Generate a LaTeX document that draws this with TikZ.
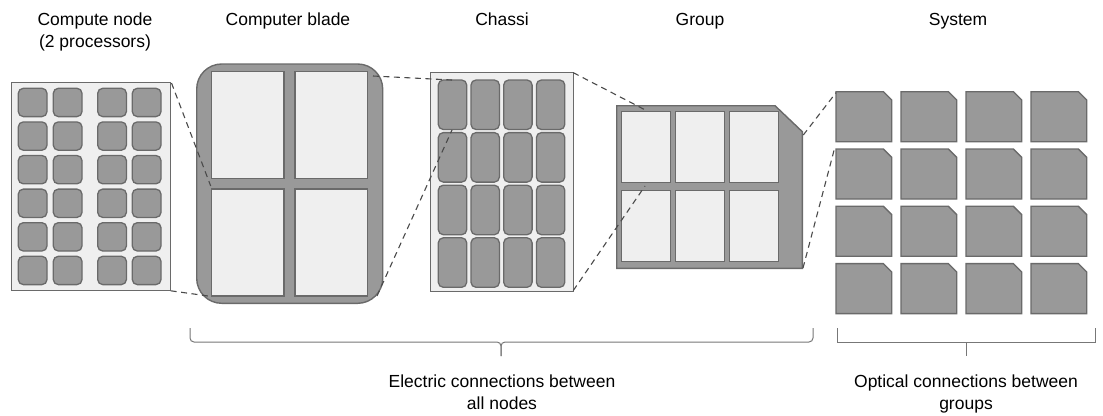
\documentclass[tikz,border=0pt]{standalone}
\usepackage{fontspec}
\setmainfont{Liberation Sans}
\definecolor{cellgray}{HTML}{999999}
\definecolor{edgegray}{HTML}{6A6A6A}
\definecolor{lightfill}{HTML}{EFEFEF}
\definecolor{dashgray}{HTML}{4A4A4A}
\definecolor{bracegray}{HTML}{777777}
\tikzset{
  lightbox/.style={fill=lightfill,draw=edgegray,line width=1.4pt},
  darkcell/.style={fill=cellgray,draw=edgegray,line width=1.3pt,rounded corners=5pt},
  darkbody/.style={fill=cellgray,draw=edgegray,line width=1.4pt},
  zoomline/.style={draw=dashgray,line width=1.1pt,dash pattern=on 6pt off 4.5pt},
  bracestyle/.style={draw=bracegray,line width=1pt},
  lbl/.style={font=\fontsize{17.5}{22}\selectfont,align=center,text=black,inner sep=0pt}
}
\begin{document}
\begin{tikzpicture}[x=1pt,y=-1pt]
\useasboundingbox (0,0) rectangle (1103,415);

% ---- Compute node
\draw[lightbox] (11.7,82.3) rectangle (170.7,290.7);
\foreach \cx in {18.3,53.3,97.7,132.3}{
  \foreach \j in {0,...,5}{
    \draw[darkcell] (\cx,{88.3+33.6*\j}) rectangle ++(28.7,28.3);
  }
}
\coordinate (cnTR) at (171.5,83);
\coordinate (cnBR) at (170.7,290.8);

% ---- Computer blade
\draw[darkbody,rounded corners=25pt] (196.7,64) rectangle (382.7,303.3);
\draw[lightbox,line width=1.3pt] (211.7,71.7) rectangle (284,178.3);
\draw[lightbox,line width=1.3pt] (295,71.7) rectangle (367.7,178.3);
\draw[lightbox,line width=1.3pt] (211.7,189) rectangle (284,296);
\draw[lightbox,line width=1.3pt] (295,189) rectangle (367.7,296);
\coordinate (blA) at (210.7,186);
\coordinate (blB) at (211.7,296.5);
\coordinate (blC) at (373,76);
\coordinate (blD) at (377,296);

% ---- Chassi
\draw[lightbox] (430.7,72.7) rectangle (573.3,291.7);
\foreach \i in {0,...,3}{
  \foreach \j in {0,...,3}{
    \draw[darkcell] ({438.3+32.7*\i},{80+52.6*\j}) rectangle ++(28.4,49.5);
  }
}
\coordinate (chA) at (452,80);
\coordinate (chB) at (452,130);
\coordinate (chTR) at (573.3,72.7);
\coordinate (chBR) at (573.3,290.5);

% ---- Group
\draw[darkbody] (616.7,105.7) -- (775,105.7) -- (802.3,131.7) -- (802.3,268.3) -- (616.7,268.3) -- cycle;
\foreach \cx in {621.7,675.7,729.3}{
  \draw[lightbox,line width=1.3pt] (\cx,111.7) rectangle ++(49,71);
  \draw[lightbox,line width=1.3pt] (\cx,190.7) rectangle ++(49,71);
}
\coordinate (grA) at (646.7,110.7);
\coordinate (grB) at (645,186);
\coordinate (grC) at (803.3,135);
\coordinate (grD) at (803,268);

% ---- System
\foreach \i in {0,...,3}{
  \foreach \j in {0,...,3}{
    \draw[darkbody,line width=1.3pt] ({836+65*\i},{91.7+57.3*\j}) -- ++(47.4,0) -- ++(8.3,8.3) -- ++(0,41.7) -- ++(-55.7,0) -- cycle;
  }
}
\coordinate (syA) at (836,92.7);
\coordinate (syB) at (835,146.7);

% ---- zoom lines
\draw[zoomline] (cnTR) -- (blA);
\draw[zoomline] (cnBR) -- (blB);
\draw[zoomline] (blC) -- (chA);
\draw[zoomline] (blD) -- (chB);
\draw[zoomline] (chTR) -- (grA);
\draw[zoomline] (chBR) -- (grB);
\draw[zoomline] (grC) -- (syA);
\draw[zoomline] (grD) -- (syB);

% ---- braces
\coordinate (ebL) at (190,328);
\coordinate (ebR) at (813,328);
\coordinate (ebM) at (501,356);
\draw[bracestyle,rounded corners=4pt] (ebL) |- (501,342) -- (ebM);
\draw[bracestyle,rounded corners=4pt] (ebR) |- (501,342) -- (ebM);
\coordinate (obL) at (837.3,328);
\coordinate (obR) at (1095,328);
\coordinate (obM) at (966,356);
\draw[bracestyle] (obL) |- (obR |- 0,342.5) -- (obR);
\draw[bracestyle] (966,342.5) -- (obM);

% ---- labels
\node[lbl,anchor=base] (t1) at (95,47) {Compute node\\(2 processors)};
\node[lbl,anchor=base] (t2) at (288,25) {Computer blade};
\node[lbl,anchor=base] (t3) at (502,25) {Chassi};
\node[lbl,anchor=base] (t4) at (700,25) {Group};
\node[lbl,anchor=base] (t5) at (958,25) {System};
\node[lbl,anchor=base] (b1) at (502,409.7) {Electric connections between\\all nodes};
\node[lbl,anchor=base] (b2) at (966,409.7) {Optical connections between\\groups};
\end{tikzpicture}
\end{document}
